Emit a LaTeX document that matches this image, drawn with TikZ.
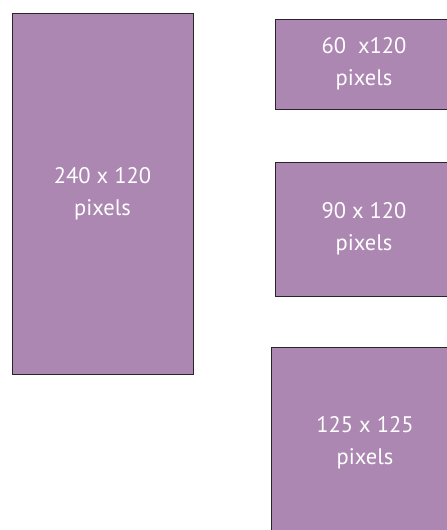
\documentclass[tikz,border=0pt]{standalone}
\usepackage{fontspec}
\setmainfont{PT Sans}
\definecolor{adpurple}{RGB}{171,135,177}
\definecolor{adedge}{RGB}{40,36,42}
\begin{document}
\begin{tikzpicture}[
    x=1pt, y=-1pt,
    adbox/.style={
        rectangle,
        draw=adedge,
        line width=1pt,
        fill=adpurple,
        text=white,
        font=\fontsize{22.5}{32}\selectfont,
        align=center,
        inner sep=0pt
    }
]

\useasboundingbox (0,0) rectangle (447,530);
\clip (0,0) rectangle (447,530);

\node[adbox, minimum width=181, minimum height=361] (tower) at (102.5,193.5) {240 x 120\\pixels};
\node[adbox, minimum width=178, minimum height=90] (button) at (364,64) {60~~x120\\pixels};
\node[adbox, minimum width=178, minimum height=134] (mid) at (364,229) {90 x 120\\pixels};
\node[adbox, minimum width=188, minimum height=192] (square) at (365,443) {125 x 125\\pixels};

\end{tikzpicture}
\end{document}
